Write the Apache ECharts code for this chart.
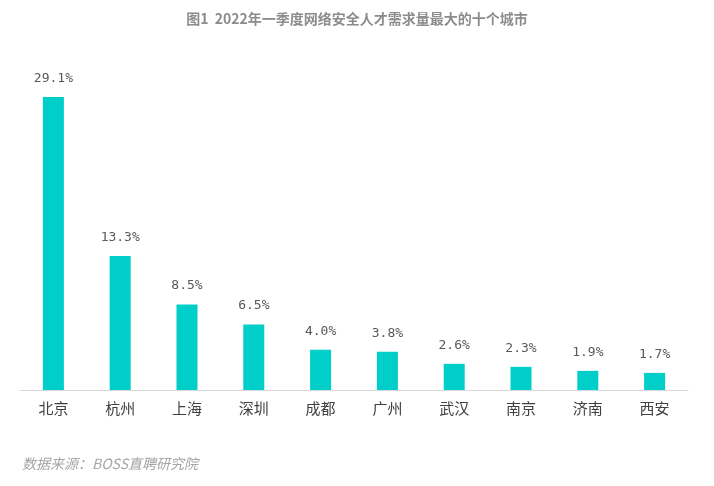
<!DOCTYPE html>
<html><head><meta charset="utf-8">
<script src="https://cdn.jsdelivr.net/npm/echarts@6/dist/echarts.min.js"></script>
<style>html,body{margin:0;padding:0;background:#fff}#c{width:714px;height:486px}</style>
</head><body><div id="c"></div>
<script>
const categories = ['北京','杭州','上海','深圳','成都','广州','武汉','南京','济南','西安'];
const values = [29.1, 13.3, 8.5, 6.5, 4.0, 3.8, 2.6, 2.3, 1.9, 1.7];
const titleText = '图1  2022年一季度网络安全人才需求量最大的十个城市';
const sourceText = '数据来源：BOSS直聘研究院';

const chart = echarts.init(document.getElementById('c'));
chart.setOption({
  animation: false,
  title: [{
    text: titleText, left: 'center', top: 7,
    textStyle: {fontSize: 14, fontWeight: 'bold', color: '#8c8c8c', fontFamily: 'Noto Sans CJK SC'}
  }, {
    text: sourceText, left: 17, top: 452,
    textStyle: {fontSize: 14, fontWeight: 'normal', fontStyle: 'italic', color: '#a6a6a6', fontFamily: 'Noto Sans CJK SC'}
  }],
  grid: {left: 20, right: 26, top: 88, bottom: 96},
  xAxis: {
    type: 'category', data: categories,
    axisLine: {lineStyle: {color: '#d9d9d9', width: 1}},
    axisTick: {show: false},
    axisLabel: {color: '#404040', fontSize: 15, margin: 11, fontFamily: 'Noto Sans CJK SC'}
  },
  yAxis: {type: 'value', min: 0, max: 30, show: false, splitLine: {show: false}},
  series: [{
    type: 'bar', data: values, barWidth: 21,
    itemStyle: {color: '#00CEC9'},
    label: {
      show: true, position: 'top', distance: 12,
      formatter: p => p.value.toFixed(1) + '%',
      color: '#595959', fontSize: 13, fontFamily: 'DejaVu Sans Mono'
    }
  }]
});
</script></body></html>
